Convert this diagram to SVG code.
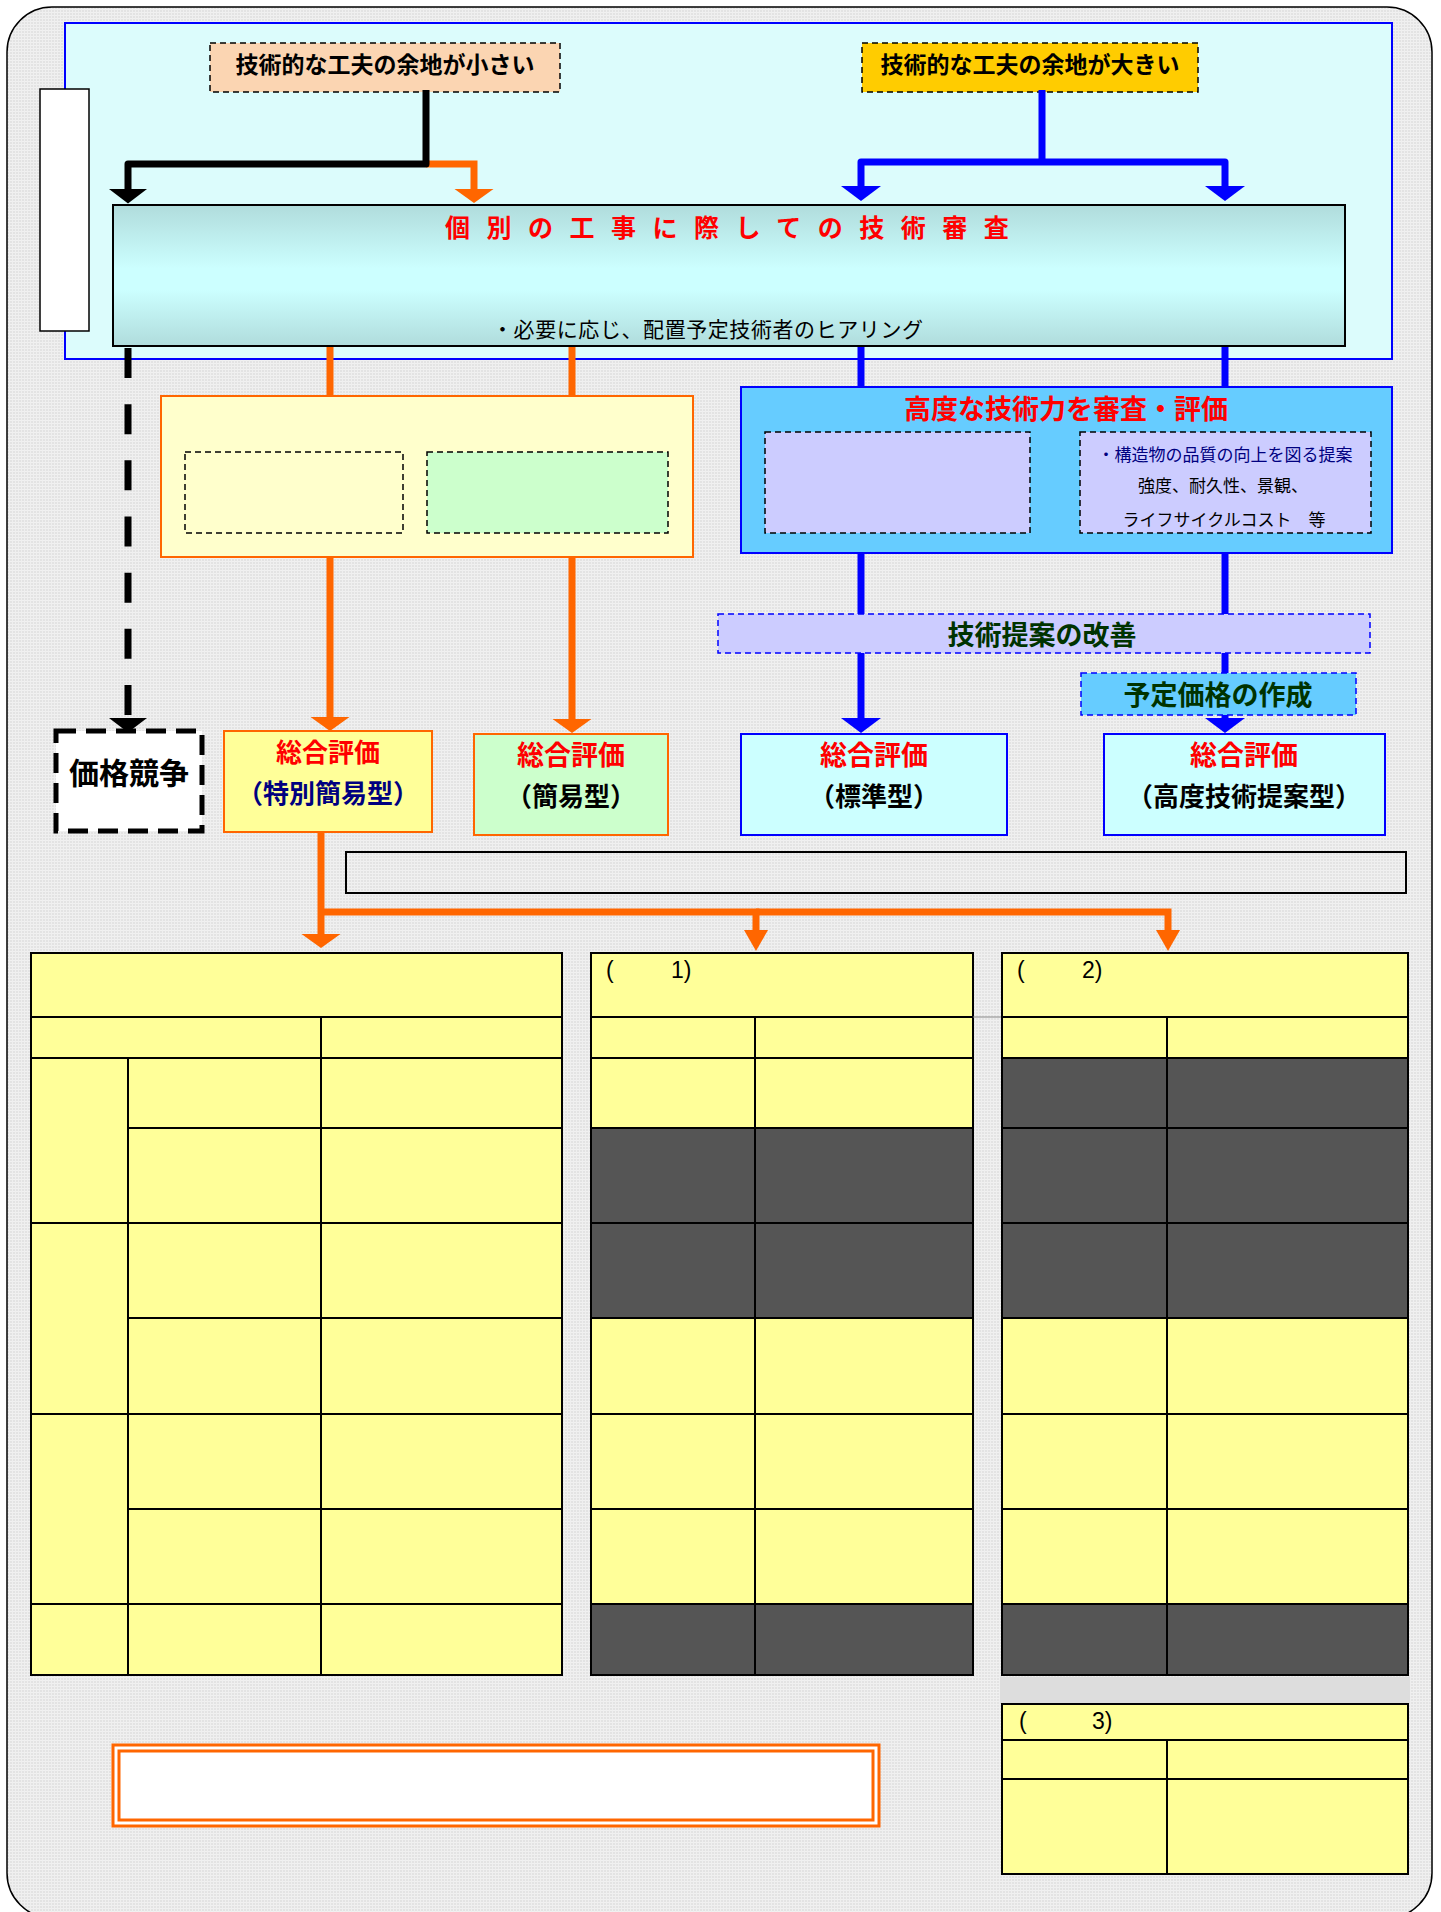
<svg xmlns="http://www.w3.org/2000/svg" width="1441" height="1912" viewBox="0 0 1441 1912">
<defs>
<pattern id="bgtex" width="3" height="3" patternUnits="userSpaceOnUse">
<rect width="3" height="3" fill="#e3e3e3"/>
<rect width="3" height="1" fill="#f1f1f1"/>
<rect width="1" height="3" fill="#efefef"/>
</pattern>
<linearGradient id="mainGrad" x1="0" y1="0" x2="0" y2="1">
<stop offset="0" stop-color="#b0dcdc"/>
<stop offset="0.45" stop-color="#ccffff"/>
<stop offset="0.6" stop-color="#ccffff"/>
<stop offset="1" stop-color="#b0dcdc"/>
</linearGradient>
<marker id="ahK" markerUnits="userSpaceOnUse" markerWidth="16" markerHeight="40" viewBox="0 -20 16 40" refX="0" refY="0" orient="auto"><path d="M0,-19 L14.5,0 L0,19 Z" fill="#000"/></marker>
<marker id="ahO" markerUnits="userSpaceOnUse" markerWidth="16" markerHeight="40" viewBox="0 -20 16 40" refX="0" refY="0" orient="auto"><path d="M0,-19.5 L14,0 L0,19.5 Z" fill="#ff6600"/></marker>
<marker id="ahOs" markerUnits="userSpaceOnUse" markerWidth="22" markerHeight="26" viewBox="0 -13 22 26" refX="0" refY="0" orient="auto"><path d="M0,-12 L21,0 L0,12 Z" fill="#ff6600"/></marker>
<marker id="ahB" markerUnits="userSpaceOnUse" markerWidth="16" markerHeight="42" viewBox="0 -21 16 42" refX="0" refY="0" orient="auto"><path d="M0,-20 L15,0 L0,20 Z" fill="#0000ff"/></marker>
</defs>
<style>
.cjk{font-family:"Noto Sans CJK JP","Noto Sans CJK SC",sans-serif}
.b{font-weight:bold}
.lat{font-family:"Liberation Sans",Arial,sans-serif}
.red{fill:#ff0000}
.tc{text-anchor:middle}
.y{fill:#ffff99;stroke:#000;stroke-width:2}
.d{fill:#555555;stroke:#000;stroke-width:2}
.co{fill:none;stroke:#ff6600;stroke-width:7}
.cb{fill:none;stroke:#0000ff;stroke-width:7}
.ck{fill:none;stroke:#000;stroke-width:7}
.dash{stroke:#000;stroke-width:1.5;stroke-dasharray:6 4}
.dashb{stroke:#0000ff;stroke-width:1.5;stroke-dasharray:6 4}
</style>

<g id="background">
<rect x="0" y="0" width="1441" height="1912" fill="#ffffff"/>
<rect x="7" y="7" width="1425" height="1911" rx="45" ry="45" fill="url(#bgtex)" stroke="#000" stroke-width="1.5"/>
</g>

<g id="upper-frame">
<rect x="65" y="23" width="1327" height="336" fill="#dcfcfc" stroke="#0000ff" stroke-width="2"/>
</g>

<g id="side-box">
<rect x="40" y="89" width="49" height="242" fill="#ffffff" stroke="#000" stroke-width="1.5"/>
</g>

<g id="node-small">
<rect x="210" y="43" width="350" height="49" fill="#fbd5b2" class="dash"/>
<text x="385" y="72.5" class="cjk b tc" font-size="23" fill="#000">技術的な工夫の余地が小さい</text>
</g>

<g id="node-large">
<rect x="862" y="43" width="336" height="49" fill="#ffcc00" class="dash"/>
<text x="1030" y="72.5" class="cjk b tc" font-size="23" fill="#000">技術的な工夫の余地が大きい</text>
</g>

<g id="connectors">
<path class="co" d="M426,164 H474 V189" marker-end="url(#ahO)"/>
<path class="ck" d="M426,90 V164 H128 V189" stroke-linejoin="round" marker-end="url(#ahK)"/>
<path class="cb" d="M1042,90 V162"/>
<path class="cb" d="M1042,162 H861 V186" stroke-linejoin="round" marker-end="url(#ahB)"/>
<path class="cb" d="M1042,162 H1225 V186" stroke-linejoin="round" marker-end="url(#ahB)"/>
<path class="ck" d="M128,348 V718" stroke-dasharray="30 26.17" marker-end="url(#ahK)"/>
<path class="co" d="M330,346 V396"/>
<path class="co" d="M572,346 V396"/>
<path class="co" d="M330,557 V717" marker-end="url(#ahO)"/>
<path class="co" d="M572,557 V719" marker-end="url(#ahO)"/>
<path class="cb" d="M861,346 V387"/>
<path class="cb" d="M1225,346 V387"/>
<path class="cb" d="M861,553 V614"/>
<path class="cb" d="M1225,553 V614"/>
<path class="cb" d="M861,653 V718" marker-end="url(#ahB)"/>
<path class="cb" d="M1225,653 V673"/>
<path class="cb" d="M1225,715 V718" marker-end="url(#ahB)"/>
<path class="co" d="M321,832 V934" marker-end="url(#ahO)"/>
<path class="co" d="M321,912 H756 V930" marker-end="url(#ahOs)"/>
<path class="co" d="M756,912 H1168 V930" marker-end="url(#ahOs)"/>
</g>

<g id="node-review">
<rect x="113" y="205" width="1232" height="141" fill="url(#mainGrad)" stroke="#000" stroke-width="2"/>
<text x="445" y="237" class="cjk b red" font-size="25" letter-spacing="16.5">個別の工事に際しての技術審査</text>
<text x="492" y="337" class="cjk" font-size="21" fill="#000" textLength="431" lengthAdjust="spacing">・必要に応じ、配置予定技術者のヒアリング</text>
</g>

<g id="node-simple-frame">
<rect x="161" y="396" width="532" height="161" fill="#ffffcc" stroke="#ff6600" stroke-width="2"/>
<rect x="185" y="452" width="218" height="81" fill="#ffffcc" class="dash"/>
<rect x="427" y="452" width="241" height="81" fill="#ccffcc" class="dash"/>
</g>

<g id="node-advanced-frame">
<rect x="741" y="387" width="651" height="166" fill="#66ccff" stroke="#0000ff" stroke-width="2"/>
<text x="1066" y="418.5" class="cjk b tc red" font-size="27">高度な技術力を審査・評価</text>
<rect x="765" y="432" width="265" height="101" fill="#ccccff" class="dash"/>
<rect x="1080" y="432" width="291" height="101" fill="#ccccff" class="dash"/>
<text x="1225" y="461" class="cjk tc" font-size="17" fill="#000080">・構造物の品質の向上を図る提案</text>
<text x="1223" y="492" class="cjk tc" font-size="17" fill="#000">強度、耐久性、景観、</text>
<text x="1224" y="526" class="cjk tc" font-size="17" fill="#000">ライフサイクルコスト　等</text>
</g>

<g id="node-improve">
<rect x="718" y="614" width="652" height="39" fill="#ccccff" class="dashb"/>
<text x="1042" y="645" class="cjk b tc" font-size="27" fill="#003300">技術提案の改善</text>
</g>

<g id="node-price">
<rect x="1081" y="673" width="275" height="42" fill="#66ccff" class="dashb"/>
<text x="1218" y="705" class="cjk b tc" font-size="27" fill="#003300">予定価格の作成</text>
</g>

<g id="node-price-competition">
<rect x="56" y="731" width="146" height="100" fill="#ffffff" stroke="#000" stroke-width="5" stroke-dasharray="20 10"/>
<text x="129" y="784" class="cjk b tc" font-size="30" fill="#000">価格競争</text>
</g>

<g id="node-special-simple">
<rect x="224" y="731" width="208" height="101" fill="#ffff99" stroke="#ff6600" stroke-width="2"/>
<text x="328" y="762" class="cjk b tc red" font-size="26">総合評価</text>
<text x="328" y="803" class="cjk b tc" font-size="26" fill="#000080">（特別簡易型）</text>
</g>

<g id="node-simple">
<rect x="474" y="734" width="194" height="101" fill="#ccffcc" stroke="#ff6600" stroke-width="2"/>
<text x="571" y="765" class="cjk b tc red" font-size="27">総合評価</text>
<text x="571" y="806" class="cjk b tc" font-size="26" fill="#000">（簡易型）</text>
</g>

<g id="node-standard">
<rect x="741" y="734" width="266" height="101" fill="#ccffff" stroke="#0000ff" stroke-width="2"/>
<text x="874" y="765" class="cjk b tc red" font-size="27">総合評価</text>
<text x="874" y="806" class="cjk b tc" font-size="26" fill="#000">（標準型）</text>
</g>

<g id="node-advanced">
<rect x="1104" y="734" width="281" height="101" fill="#ccffff" stroke="#0000ff" stroke-width="2"/>
<text x="1244" y="765" class="cjk b tc red" font-size="27">総合評価</text>
<text x="1244" y="806" class="cjk b tc" font-size="26" fill="#000">（高度技術提案型）</text>
</g>

<g id="note-box">
<rect x="346" y="852" width="1060" height="41" fill="none" stroke="#000" stroke-width="2"/>
</g>

<g id="table-1">
<rect class="y" x="31" y="953" width="531" height="64"/>
<rect class="y" x="31" y="1017" width="290" height="41"/>
<rect class="y" x="321" y="1017" width="241" height="41"/>
<rect class="y" x="31" y="1058" width="97" height="165"/>
<rect class="y" x="128" y="1058" width="193" height="70"/>
<rect class="y" x="128" y="1128" width="193" height="95"/>
<rect class="y" x="321" y="1058" width="241" height="70"/>
<rect class="y" x="321" y="1128" width="241" height="95"/>
<rect class="y" x="31" y="1223" width="97" height="191"/>
<rect class="y" x="128" y="1223" width="193" height="95"/>
<rect class="y" x="128" y="1318" width="193" height="96"/>
<rect class="y" x="321" y="1223" width="241" height="95"/>
<rect class="y" x="321" y="1318" width="241" height="96"/>
<rect class="y" x="31" y="1414" width="97" height="190"/>
<rect class="y" x="128" y="1414" width="193" height="95"/>
<rect class="y" x="128" y="1509" width="193" height="95"/>
<rect class="y" x="321" y="1414" width="241" height="95"/>
<rect class="y" x="321" y="1509" width="241" height="95"/>
<rect class="y" x="31" y="1604" width="97" height="71"/>
<rect class="y" x="128" y="1604" width="193" height="71"/>
<rect class="y" x="321" y="1604" width="241" height="71"/>
</g>

<g id="table-2">
<rect class="y" x="591" y="953" width="382" height="64"/>
<text class="lat" font-size="23" fill="#000" y="978"><tspan x="606">(</tspan><tspan x="671">1)</tspan></text>
<rect class="y" x="591" y="1017" width="164" height="41"/><rect class="y" x="755" y="1017" width="218" height="41"/>
<rect class="y" x="591" y="1058" width="164" height="70"/><rect class="y" x="755" y="1058" width="218" height="70"/>
<rect class="d" x="591" y="1128" width="164" height="95"/><rect class="d" x="755" y="1128" width="218" height="95"/>
<rect class="d" x="591" y="1223" width="164" height="95"/><rect class="d" x="755" y="1223" width="218" height="95"/>
<rect class="y" x="591" y="1318" width="164" height="96"/><rect class="y" x="755" y="1318" width="218" height="96"/>
<rect class="y" x="591" y="1414" width="164" height="95"/><rect class="y" x="755" y="1414" width="218" height="95"/>
<rect class="y" x="591" y="1509" width="164" height="95"/><rect class="y" x="755" y="1509" width="218" height="95"/>
<rect class="d" x="591" y="1604" width="164" height="71"/><rect class="d" x="755" y="1604" width="218" height="71"/>
<line x1="973" y1="1017" x2="1002" y2="1017" stroke="#888" stroke-width="1"/>
</g>

<g id="table-3">
<rect class="y" x="1002" y="953" width="406" height="64"/>
<text class="lat" font-size="23" fill="#000" y="978"><tspan x="1017">(</tspan><tspan x="1082">2)</tspan></text>
<rect class="y" x="1002" y="1017" width="165" height="41"/><rect class="y" x="1167" y="1017" width="241" height="41"/>
<rect class="d" x="1002" y="1058" width="165" height="70"/><rect class="d" x="1167" y="1058" width="241" height="70"/>
<rect class="d" x="1002" y="1128" width="165" height="95"/><rect class="d" x="1167" y="1128" width="241" height="95"/>
<rect class="d" x="1002" y="1223" width="165" height="95"/><rect class="d" x="1167" y="1223" width="241" height="95"/>
<rect class="y" x="1002" y="1318" width="165" height="96"/><rect class="y" x="1167" y="1318" width="241" height="96"/>
<rect class="y" x="1002" y="1414" width="165" height="95"/><rect class="y" x="1167" y="1414" width="241" height="95"/>
<rect class="y" x="1002" y="1509" width="165" height="95"/><rect class="y" x="1167" y="1509" width="241" height="95"/>
<rect class="d" x="1002" y="1604" width="165" height="71"/><rect class="d" x="1167" y="1604" width="241" height="71"/>
<rect x="1000" y="1677" width="410" height="27" fill="#dddddd"/>
</g>

<g id="table-4">
<rect class="y" x="1002" y="1704" width="406" height="36"/>
<text class="lat" font-size="23" fill="#000" y="1729"><tspan x="1019">(</tspan><tspan x="1092">3)</tspan></text>
<rect class="y" x="1002" y="1740" width="165" height="39"/><rect class="y" x="1167" y="1740" width="241" height="39"/>
<rect class="y" x="1002" y="1779" width="165" height="95"/><rect class="y" x="1167" y="1779" width="241" height="95"/>
</g>

<g id="bottom-box">
<rect x="113" y="1745" width="766" height="81" fill="#ffffff" stroke="#ff6600" stroke-width="3"/>
<rect x="119" y="1751" width="754" height="69" fill="none" stroke="#ff6600" stroke-width="3"/>
</g>
</svg>
